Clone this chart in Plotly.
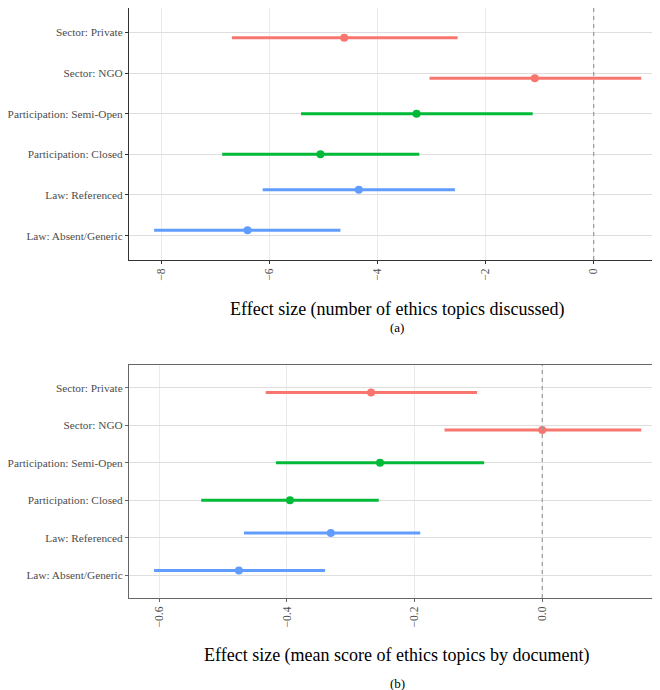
import plotly.graph_objects as go

categories = ["Sector: Private", "Sector: NGO", "Participation: Semi-Open",
              "Participation: Closed", "Law: Referenced", "Law: Absent/Generic"]
groups = ["Sector", "Sector", "Participation", "Participation", "Law", "Law"]

# Panel (a): number of ethics topics discussed
est_a = [-4.62, -1.09, -3.28, -5.06, -4.35, -6.41]
lo_a = [-6.70, -3.04, -5.42, -6.88, -6.13, -8.14]
hi_a = [-2.52, 0.88, -1.13, -3.23, -2.57, -4.69]

# Panel (b): mean score of ethics topics by document
est_b = [-0.268, 0.0, -0.254, -0.395, -0.331, -0.475]
lo_b = [-0.433, -0.153, -0.417, -0.534, -0.467, -0.608]
hi_b = [-0.102, 0.155, -0.091, -0.256, -0.191, -0.340]

ticks_a = [-8, -6, -4, -2, 0]
ticks_b = [-0.6, -0.4, -0.2, 0.0]

colors = {"Sector": "#F8766D", "Participation": "#00BA38", "Law": "#619CFF"}
dodge = {"Sector": -0.13, "Participation": 0.0, "Law": 0.13}

n = len(categories)
ypos = [n - i for i in range(n)]

FONT = "Liberation Serif"
fig = go.Figure()

def add_panel(est, lo, hi, xa, ya):
    for g in ["Sector", "Participation", "Law"]:
        idx = [i for i in range(n) if groups[i] == g]
        fig.add_trace(go.Scatter(
            x=[est[i] for i in idx],
            y=[ypos[i] + dodge[g] for i in idx],
            mode="markers",
            marker=dict(color=colors[g], size=8),
            error_x=dict(type="data", symmetric=False,
                         array=[hi[i] - est[i] for i in idx],
                         arrayminus=[est[i] - lo[i] for i in idx],
                         color=colors[g], thickness=3, width=0),
            xaxis=xa, yaxis=ya, showlegend=False, hoverinfo="skip"))

add_panel(est_a, lo_a, hi_a, "x", "y")
add_panel(est_b, lo_b, hi_b, "x2", "y2")

# page body has an 8px margin; the figure is sized to end at the window edge
OFF = 8
W, H = 660 - OFF, 690 - OFF

def px(v):
    return v - OFF

left = px(129) / W

def xaxis_cfg(rng, dom_y, tickvals, fmt, linecol, anchor):
    return dict(range=rng, domain=[left, 1.0], anchor=anchor,
                tickvals=tickvals, tickformat=fmt, tickangle=-90,
                ticks="outside", ticklen=3, tickcolor=linecol,
                tickfont=dict(family=FONT, size=11.5, color="#4D4D4D"),
                showline=True, linecolor=linecol, linewidth=1, mirror=True,
                showgrid=True, gridcolor="#EBEBEB", gridwidth=1.2,
                zeroline=False, automargin=False, fixedrange=True)

def yaxis_cfg(dom, linecol, anchor):
    return dict(range=[0.4, 6.6], domain=dom, anchor=anchor,
                tickvals=ypos, ticktext=categories,
                ticks="outside", ticklen=3, tickcolor=linecol,
                tickfont=dict(family=FONT, size=11.3, color="#4D4D4D"),
                showline=True, linecolor=linecol, linewidth=1, mirror=False,
                showgrid=True, gridcolor="#DEDEDE", gridwidth=1.3,
                zeroline=False, automargin=False, fixedrange=True)

dom_a = [1 - px(260) / H, 1 - px(8) / H]
dom_b = [1 - px(598) / H, 1 - px(365) / H]

# x ranges so the panel runs off the right edge of the figure
range_a = [(129 - 593.7) / 54.0, (660 - 593.7) / 54.0]
range_b = [(129.3 - 542.3) / 638.3, (660 - 542.3) / 638.3]

def ann(text, xp, yp, size):
    return dict(text=text, x=px(xp) / W, y=1 - px(yp) / H, xref="paper",
                yref="paper", showarrow=False, xanchor="center",
                yanchor="middle", font=dict(family=FONT, size=size, color="black"))

fig.update_layout(
    width=W, height=H,
    margin=dict(l=0, r=0, t=0, b=0),
    paper_bgcolor="white", plot_bgcolor="white",
    xaxis=xaxis_cfg(range_a, dom_a, ticks_a, "d", "#333333", "y"),
    yaxis=yaxis_cfg(dom_a, "#333333", "x"),
    xaxis2=xaxis_cfg(range_b, dom_b, ticks_b, ".1f", "#666666", "y2"),
    yaxis2=yaxis_cfg(dom_b, "#666666", "x2"),
    shapes=[
        dict(type="line", xref="x", yref="y domain", x0=0, x1=0, y0=0, y1=1,
             line=dict(color="#999999", width=1.2, dash="4px,4px"), layer="above"),
        dict(type="line", xref="x2", yref="y2 domain", x0=0, x1=0, y0=0, y1=1,
             line=dict(color="#999999", width=1.2, dash="4px,4px"), layer="above"),
    ],
    annotations=[
        ann("Effect size (number of ethics topics discussed)", 397, 309, 18),
        ann("(a)", 397, 327, 13),
        ann("Effect size (mean score of ethics topics by document)", 397, 655, 18),
        ann("(b)", 397, 683, 13),
    ],
)

fig.write_html("out.html")
